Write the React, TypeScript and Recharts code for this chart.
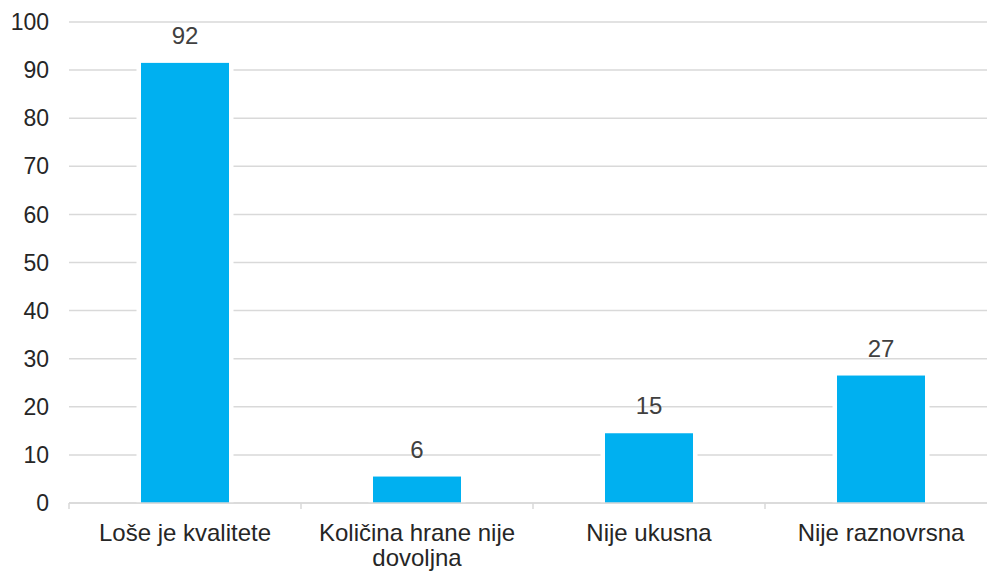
import React from 'react'
import { BarChart, Bar, XAxis, YAxis, CartesianGrid, LabelList } from 'recharts'

const categories = ['Loše je kvalitete', 'Količina hrane nije dovoljna', 'Nije ukusna', 'Nije raznovrsna']
const values = [91.5, 5.5, 14.5, 26.5]
const yTicks = [0, 10, 20, 30, 40, 50, 60, 70, 80, 90, 100]

const data = categories.map((name, i) => ({ name, value: values[i] }))

const font = 'Arial, "Liberation Sans", sans-serif'
const gridColor = '#d9d9d9'
const catFontSize = 24

let ctx: CanvasRenderingContext2D | null = null
function measure(s: string) {
  if (!ctx) ctx = document.createElement('canvas').getContext('2d')
  if (!ctx) return s.length * catFontSize * 0.5
  ctx.font = `${catFontSize}px ${font}`
  return ctx.measureText(s).width
}

function wrap(label: string, maxWidth: number) {
  const lines: string[] = []
  let cur = ''
  label.split(' ').forEach((w) => {
    const next = cur ? cur + ' ' + w : w
    if (cur && measure(next) > maxWidth) {
      lines.push(cur)
      cur = w
    } else {
      cur = next
    }
  })
  if (cur) lines.push(cur)
  return lines
}

// category label plus the small tick marks sitting on the band edges
function CatTick(props: any) {
  const { x, y, payload, width, visibleTicksCount, index } = props
  const band = (typeof width === 'number' ? width : 928) / (visibleTicksCount || categories.length)
  const left = x - band / 2
  const lines = wrap(String(payload.value), 215)
  return (
    <g>
      <line x1={left} x2={left} y1={y} y2={y + 6} stroke={gridColor} strokeWidth={1.5} />
      {index === visibleTicksCount - 1 && (
        <line x1={left + band} x2={left + band} y1={y} y2={y + 6} stroke={gridColor} strokeWidth={1.5} />
      )}
      <text x={x} y={y + 38} textAnchor="middle" fontSize={catFontSize} fontFamily={font} fill="#262626">
        {lines.map((l, i) => (
          <tspan key={i} x={x} dy={i === 0 ? 0 : 25}>
            {l}
          </tspan>
        ))}
      </text>
    </g>
  )
}

// bar with a white halo so the gridlines stop short of it
function PaddedBar(props: any) {
  const { x, y, width, height, fill } = props
  if (!height) return null
  return (
    <g>
      <rect x={x - 4.5} y={y - 4.5} width={width + 9} height={height + 4.5} fill="#fff" />
      <rect x={x} y={y} width={width} height={height} fill={fill} />
    </g>
  )
}

export default function App() {
  return (
    <div style={{ position: 'absolute', left: 0, top: 0, width: 987, height: 571, overflow: 'hidden', background: '#fff' }}>
      <BarChart width={1010} height={571} data={data} margin={{ top: 22, right: 13, left: 0, bottom: 0 }}>
        <CartesianGrid vertical={false} stroke={gridColor} strokeWidth={1.5} />
        <YAxis
          width={69}
          domain={[0, 100]}
          ticks={yTicks}
          interval={0}
          axisLine={false}
          tickLine={false}
          tickSize={0}
          tickMargin={20}
          tick={{ fontSize: 23, fill: '#262626', fontFamily: font }}
        />
        <Bar dataKey="value" fill="#00b0f0" barSize={88} isAnimationActive={false} shape={<PaddedBar />}>
          <LabelList
            dataKey="value"
            position="top"
            offset={19}
            formatter={(v: any) => Math.round(Number(v))}
            style={{ fontSize: 24, fill: '#404040', fontFamily: font }}
          />
        </Bar>
        <XAxis
          dataKey="name"
          height={68}
          interval={0}
          axisLine={{ stroke: gridColor, strokeWidth: 1.5 }}
          tickLine={false}
          tickSize={0}
          tickMargin={0}
          tick={<CatTick />}
        />
      </BarChart>
    </div>
  )
}
